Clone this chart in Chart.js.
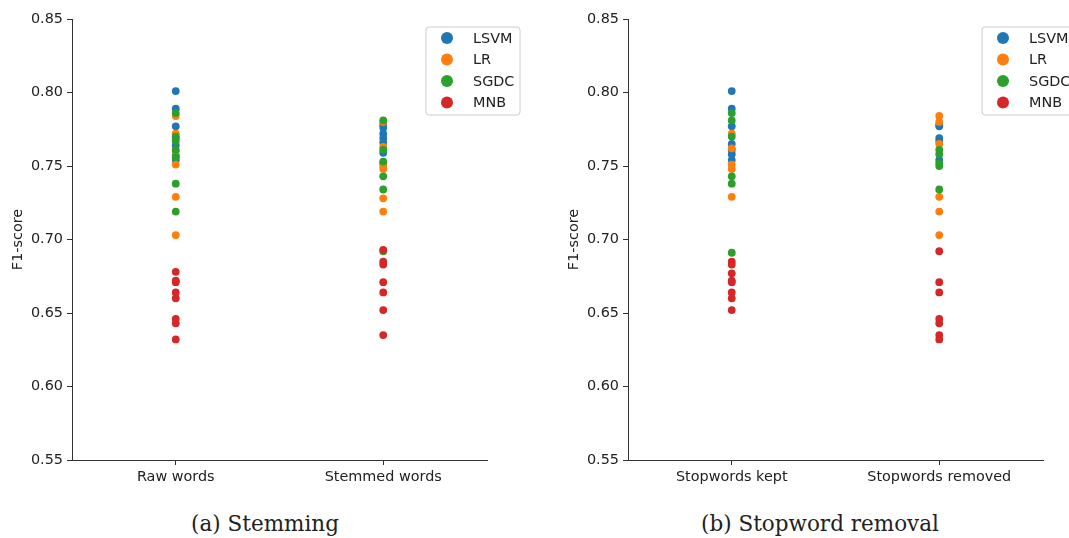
<!DOCTYPE html>
<html>
<head>
<meta charset="utf-8">
<script src="https://cdn.jsdelivr.net/npm/chart.js@4/dist/chart.umd.min.js"></script>
<style>
  html, body { margin: 0; padding: 0; background: #fff; overflow: hidden; }
  body { width: 1069px; height: 538px; position: relative; }
  .panel { position: absolute; top: 0; width: 535px; height: 490px; }
  .caption {
    position: absolute; top: 511px; width: 400px; text-align: center;
    font-family: "DejaVu Serif", serif; font-size: 21.5px; color: #222;
  }
</style>
</head>
<body>
<div class="panel" style="left:0"><canvas id="stemChart"></canvas></div>
<div class="panel" style="left:556px"><canvas id="stopChart"></canvas></div>
<div class="caption" style="left:65px">(a) Stemming</div>
<div class="caption" style="left:620px">(b) Stopword removal</div>
<script>
const classifiers = ['LSVM', 'LR', 'SGDC', 'MNB'];
const colors = ['#1f77b4', '#ff7f0e', '#2ca02c', '#d62728'];
const yTicks = [0.55, 0.60, 0.65, 0.70, 0.75, 0.80, 0.85];

const stemCategories = ['Raw words', 'Stemmed words'];
const stopCategories = ['Stopwords kept', 'Stopwords removed'];

// F1-scores, stemming experiment
const lsvmRaw = [0.801, 0.789, 0.777, 0.769, 0.764, 0.757, 0.754];
const lrRaw = [0.784, 0.772, 0.760, 0.751, 0.729, 0.703];
const sgdcRaw = [0.786, 0.770, 0.767, 0.761, 0.756, 0.738, 0.719];
const mnbRaw = [0.678, 0.672, 0.671, 0.664, 0.660, 0.646, 0.643, 0.632];

const lsvmStemmed = [0.778, 0.776, 0.772, 0.769, 0.766, 0.759, 0.752];
const lrStemmed = [0.780, 0.763, 0.750, 0.748, 0.728, 0.719];
const sgdcStemmed = [0.781, 0.761, 0.753, 0.743, 0.734, 0.692];
const mnbStemmed = [0.693, 0.685, 0.683, 0.671, 0.664, 0.652, 0.635];

// F1-scores, stopword experiment
const lsvmKept = [0.801, 0.789, 0.777, 0.765, 0.761, 0.758, 0.754];
const lrKept = [0.772, 0.762, 0.751, 0.748, 0.729];
const sgdcKept = [0.786, 0.781, 0.770, 0.743, 0.738, 0.691];
const mnbKept = [0.685, 0.683, 0.677, 0.672, 0.671, 0.664, 0.660, 0.652];

const lsvmRemoved = [0.778, 0.777, 0.769, 0.767, 0.754];
const lrRemoved = [0.784, 0.780, 0.765, 0.729, 0.719, 0.703];
const sgdcRemoved = [0.761, 0.758, 0.752, 0.750, 0.734];
const mnbRemoved = [0.692, 0.671, 0.664, 0.646, 0.643, 0.635, 0.632];

const tickFont = { family: 'DejaVu Sans', size: 14.4 };
const axisColor = '#333';

// legend box drawn inside the plot area, near the top right corner
const insideLegend = {
  id: 'insideLegend',
  afterDraw(chart) {
    const ctx = chart.ctx;
    const x = chart.chartArea.right - 61;
    const y = chart.chartArea.top + 8;
    const w = 94, h = 88, r = 3;
    ctx.save();
    ctx.beginPath();
    ctx.roundRect(x, y, w, h, r);
    ctx.fillStyle = 'rgba(255,255,255,0.8)';
    ctx.fill();
    ctx.strokeStyle = '#cccccc';
    ctx.lineWidth = 1;
    ctx.stroke();
    ctx.font = '14.4px "DejaVu Sans"';
    ctx.textBaseline = 'middle';
    classifiers.forEach((name, i) => {
      const cy = y + 11 + i * 21.5;
      ctx.beginPath();
      ctx.arc(x + 21, cy, 6, 0, Math.PI * 2);
      ctx.fillStyle = colors[i];
      ctx.fill();
      ctx.fillStyle = '#222';
      ctx.fillText(name, x + 47, cy + 1);
    });
    ctx.restore();
  }
};

function makeChart(id, categories, series) {
  const datasets = series.map((pair, i) => ({
    label: classifiers[i],
    data: [
      ...pair[0].map(v => ({ x: categories[0], y: v })),
      ...pair[1].map(v => ({ x: categories[1], y: v }))
    ],
    backgroundColor: colors[i],
    borderWidth: 0,
    pointRadius: 3.9,
    order: 4 - i
  }));

  return new Chart(document.getElementById(id), {
    type: 'scatter',
    data: { datasets },
    options: {
      responsive: true,
      maintainAspectRatio: false,
      animation: false,
      layout: { padding: { top: 19, right: 48, left: 0, bottom: 0 } },
      plugins: { legend: { display: false }, tooltip: { enabled: false } },
      scales: {
        x: {
          type: 'category',
          labels: categories,
          offset: true,
          grid: { display: true, drawOnChartArea: false, tickLength: 5, tickColor: axisColor, offset: false },
          border: { color: axisColor, width: 1 },
          ticks: { font: tickFont, color: '#222', padding: 4 },
          afterFit(scale) { scale.height = 30; }
        },
        y: {
          min: 0.55,
          max: 0.85,
          afterBuildTicks(scale) { scale.ticks = yTicks.map(v => ({ value: v })); },
          grid: { display: true, drawOnChartArea: false, tickLength: 5, tickColor: axisColor },
          border: { color: axisColor, width: 1 },
          ticks: { font: tickFont, color: '#222', padding: 4, callback: v => v.toFixed(2) },
          title: { display: true, text: 'F1-score', font: tickFont, color: '#222', padding: { top: 10, bottom: 4 } },
          afterFit(scale) { scale.width = 72; }
        }
      }
    },
    plugins: [insideLegend]
  });
}

makeChart('stemChart', stemCategories, [
  [lsvmRaw, lsvmStemmed],
  [lrRaw, lrStemmed],
  [sgdcRaw, sgdcStemmed],
  [mnbRaw, mnbStemmed]
]);

makeChart('stopChart', stopCategories, [
  [lsvmKept, lsvmRemoved],
  [lrKept, lrRemoved],
  [sgdcKept, sgdcRemoved],
  [mnbKept, mnbRemoved]
]);
</script>
</body>
</html>
